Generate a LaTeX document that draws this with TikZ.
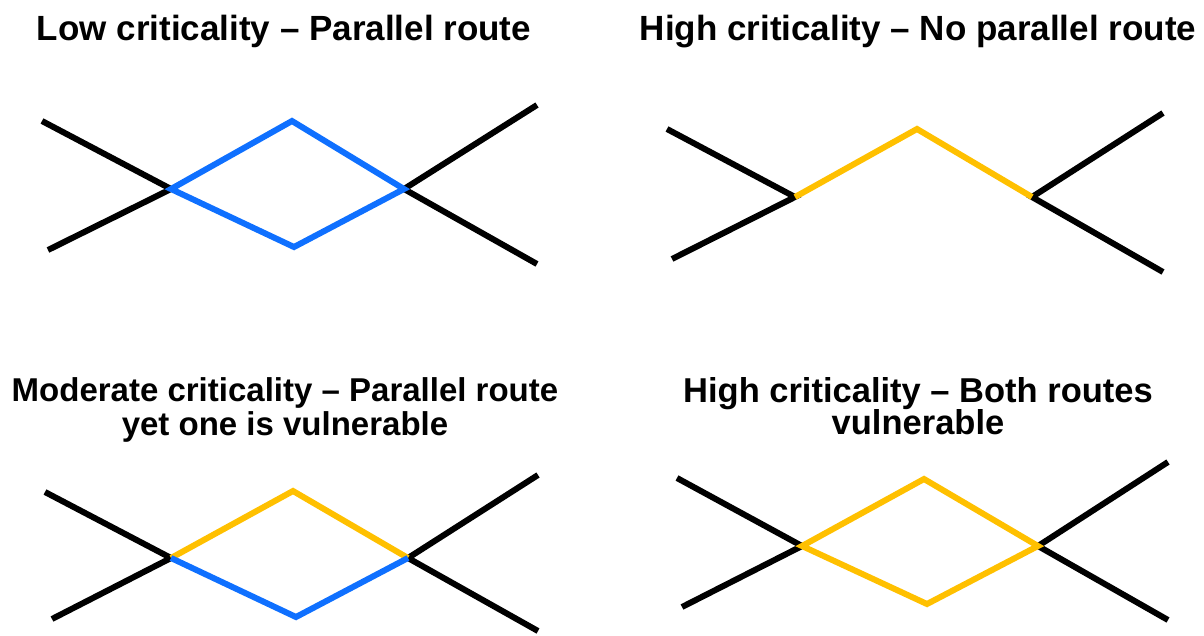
\documentclass[tikz,border=0pt]{standalone}
\usepackage{fontspec}
\setmainfont{Liberation Sans}
\definecolor{routeblue}{RGB}{15,112,255}
\definecolor{routegold}{RGB}{255,192,0}
\tikzset{
  road/.style={line width=6pt, black},
  safe/.style={line width=6pt, routeblue},
  weak/.style={line width=6pt, routegold},
  titleA/.style={inner sep=0pt, anchor=base, font=\bfseries\fontsize{35}{35}\selectfont},
  titleB/.style={inner sep=0pt, anchor=base, font=\bfseries\fontsize{33}{33}\selectfont},
  titleC/.style={inner sep=0pt, anchor=base, font=\bfseries\fontsize{34.5}{34.5}\selectfont}
}
\begin{document}
\begin{tikzpicture}[x=1pt,y=-1pt]
\useasboundingbox (0,0) rectangle (1204,635);
% titles
\node[titleA] (t1) at (284,40) {Low criticality – Parallel route};
\node[titleA] (t2) at (918,40) {High criticality – No parallel route};
\node[titleB] (t3a) at (285,401) {Moderate criticality – Parallel route};
\node[titleB] (t3b) at (285,435) {yet one is vulnerable};
\node[titleC] (t4a) at (918,402) {High criticality – Both routes};
\node[titleC] (t4b) at (918,434) {vulnerable};
% panel 1
\coordinate (p1a) at (42,121);
\coordinate (p1b) at (48,250);
\coordinate (p1L) at (171,189);
\coordinate (p1T) at (292,121);
\coordinate (p1R) at (404,189);
\coordinate (p1B) at (294,247);
\coordinate (p1c) at (537,105);
\coordinate (p1d) at (537,264);
\draw[road] (p1a) -- (p1L) -- (p1b);
\draw[road] (p1c) -- (p1R) -- (p1d);
\draw[safe] (p1L) -- (p1T) -- (p1R) -- (p1B) -- cycle;
% panel 2
\coordinate (p2a) at (667,129);
\coordinate (p2b) at (672,259);
\coordinate (p2L) at (795,197);
\coordinate (p2T) at (917,129);
\coordinate (p2R) at (1032,197);
\coordinate (p2c) at (1163,113);
\coordinate (p2d) at (1163,272);
\draw[road] (p2a) -- (p2L) -- (p2b);
\draw[road] (p2c) -- (p2R) -- (p2d);
\draw[weak] (p2L) -- (p2T) -- (p2R);
% panel 3
\coordinate (p3a) at (45,492);
\coordinate (p3b) at (52,619);
\coordinate (p3L) at (171,558);
\coordinate (p3T) at (293,491);
\coordinate (p3R) at (408,558);
\coordinate (p3B) at (296,617);
\coordinate (p3c) at (538,475);
\coordinate (p3d) at (538,631);
\draw[road] (p3a) -- (p3L) -- (p3b);
\draw[road] (p3c) -- (p3R) -- (p3d);
\draw[weak] (p3L) -- (p3T) -- (p3R);
\draw[safe] (p3L) -- (p3B) -- (p3R);
% panel 4
\coordinate (p4a) at (677,478);
\coordinate (p4b) at (682,607);
\coordinate (p4L) at (802,546);
\coordinate (p4T) at (924,479);
\coordinate (p4R) at (1038,546);
\coordinate (p4B) at (927,604);
\coordinate (p4c) at (1168,462);
\coordinate (p4d) at (1168,620);
\draw[road] (p4a) -- (p4L) -- (p4b);
\draw[road] (p4c) -- (p4R) -- (p4d);
\draw[weak] (p4L) -- (p4T) -- (p4R) -- (p4B) -- cycle;
\end{tikzpicture}
\end{document}
